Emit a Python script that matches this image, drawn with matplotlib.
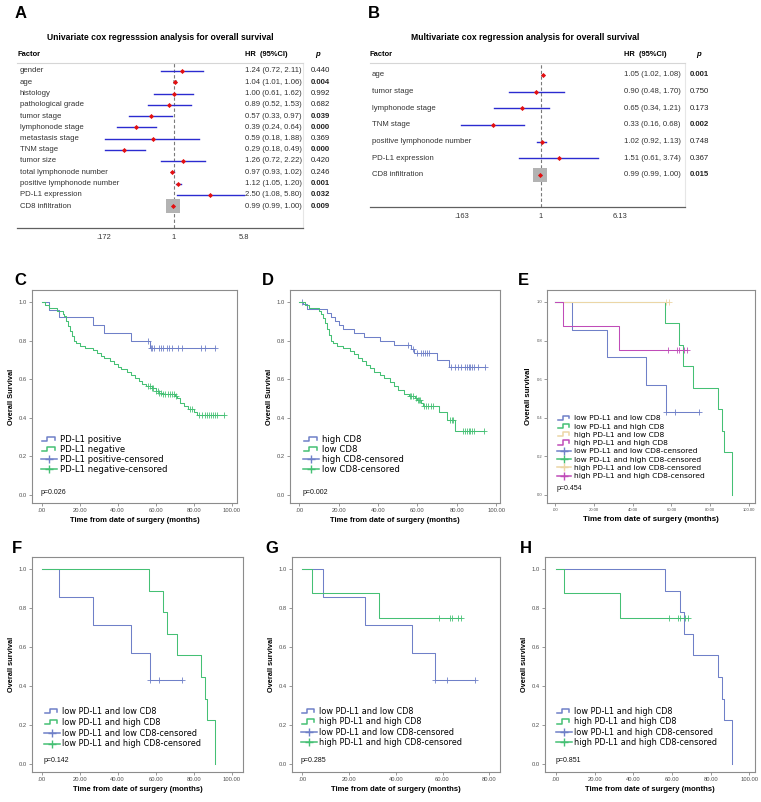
import numpy as np
import matplotlib.pyplot as plt
from matplotlib.lines import Line2D
from matplotlib.legend_handler import HandlerBase

plt.rcParams['font.family'] = ['Liberation Sans', 'DejaVu Sans']

# ---- forest plot data (A: univariate, B: multivariate) ----
uni_factors = ["gender", "age", "histology", "pathological grade", "tumor stage",
               "lymphonode stage", "metastasis stage", "TNM stage", "tumor size",
               "total lymphonode number", "positive lymphonode number",
               "PD-L1 expression", "CD8 infiltration"]
uni_hr = [1.24, 1.04, 1.00, 0.89, 0.57, 0.39, 0.59, 0.29, 1.26, 0.97, 1.12, 2.50, 0.99]
uni_lo = [0.72, 1.01, 0.61, 0.52, 0.33, 0.24, 0.18, 0.18, 0.72, 0.93, 1.05, 1.08, 0.99]
uni_hi = [2.11, 1.06, 1.62, 1.53, 0.97, 0.64, 1.88, 0.49, 2.22, 1.02, 1.20, 5.80, 1.00]
uni_p = ["0.440", "0.004", "0.992", "0.682", "0.039", "0.000", "0.369", "0.000",
         "0.420", "0.246", "0.001", "0.032", "0.009"]

multi_factors = ["age", "tumor stage", "lymphonode stage", "TNM stage",
                 "positive lymphonode number", "PD-L1 expression", "CD8 infiltration"]
multi_hr = [1.05, 0.90, 0.65, 0.33, 1.02, 1.51, 0.99]
multi_lo = [1.02, 0.48, 0.34, 0.16, 0.92, 0.61, 0.99]
multi_hi = [1.08, 1.70, 1.21, 0.68, 1.13, 3.74, 1.00]
multi_p = ["0.001", "0.750", "0.173", "0.002", "0.748", "0.367", "0.015"]

# ---- Kaplan-Meier data: step times, survival after step, censor times ----
C_pos_t = [0, 4, 9, 27, 33, 47, 57]
C_pos_s = [1.0, 0.96, 0.92, 0.88, 0.84, 0.80, 0.76]
C_pos_c = [56, 57.5, 58, 59, 62, 63, 64, 66, 67, 68.5, 71.5, 74, 84, 86, 91]
C_neg_t = [0, 2, 4, 8, 11, 12, 13, 14, 15, 16, 17, 18, 20, 23, 27, 29, 31, 33, 36, 38,
           40, 42, 45, 47, 49, 51, 53, 55, 58, 60, 62, 64, 70, 71, 73, 75, 77, 80, 82]
C_neg_s = [1.0, 0.985, 0.97, 0.955, 0.94, 0.925, 0.90, 0.875, 0.85, 0.825, 0.80, 0.785,
           0.77, 0.76, 0.75, 0.735, 0.72, 0.71, 0.695, 0.68, 0.665, 0.65, 0.635, 0.62,
           0.605, 0.59, 0.575, 0.565, 0.555, 0.54, 0.53, 0.52, 0.51, 0.50, 0.475, 0.46,
           0.445, 0.43, 0.415]
C_neg_c = [56, 57, 58, 58.5, 60, 61, 62, 63, 64, 65, 66.5, 67.5, 68.5, 69.5, 70.5, 78, 79,
           83, 84.5, 86, 87, 88, 89, 90, 91, 92.5, 96]

D_high_t = [0, 2, 4, 14, 16, 18, 20, 22, 28, 33, 41, 48, 57, 58.5, 70, 76]
D_high_s = [1.0, 0.99, 0.965, 0.945, 0.92, 0.90, 0.88, 0.86, 0.84, 0.82, 0.80, 0.775,
            0.755, 0.735, 0.70, 0.66]
D_high_c = [1.5, 55.5, 58, 60, 62, 63, 64, 65, 66, 77, 79, 80.5, 82, 84, 85, 86, 87, 88,
            89, 91, 94.5]
D_low_t = [0, 3, 5, 10, 11, 12, 13, 14, 15, 16, 17, 19, 22, 26, 28, 30, 32, 34, 36, 38,
           41, 43, 46, 48, 50, 53, 56, 59, 60, 62, 63, 71, 75, 79]
D_low_s = [1.0, 0.985, 0.97, 0.955, 0.94, 0.915, 0.89, 0.86, 0.83, 0.80, 0.785, 0.77,
           0.76, 0.745, 0.73, 0.71, 0.695, 0.675, 0.655, 0.635, 0.62, 0.605, 0.585, 0.565,
           0.545, 0.525, 0.51, 0.50, 0.49, 0.475, 0.462, 0.43, 0.39, 0.33]
D_low_c = [56.5, 57, 58, 59.5, 60.5, 61, 61.5, 63.5, 64.5, 65.5, 67, 68, 76.5, 77.5, 78,
           83, 84, 85, 86, 87, 88, 89, 94]

LL_t = [0, 9, 27, 47, 57]              # low PD-L1 and low CD8
LL_s = [1.0, 0.857, 0.714, 0.571, 0.429]
LL_c = [57, 62, 74]
LH_t = [0, 56.5, 64, 66, 71, 84, 86, 87, 91]   # low PD-L1 and high CD8
LH_s = [1.0, 0.889, 0.778, 0.667, 0.556, 0.444, 0.333, 0.222, 0.0]
LH_c = []
HL_t = [0]                              # high PD-L1 and low CD8
HL_s = [1.0]
HL_c = [57, 59]
HH_t = [0, 4, 33]                       # high PD-L1 and high CD8
HH_s = [1.0, 0.875, 0.75]
HH_c = [58.5, 63, 64, 66.5, 68]

km_xticks = [0, 20, 40, 60, 80, 100]
km_xlabels = [".00", "20.00", "40.00", "60.00", "80.00", "100.00"]
km_yticks = [0.0, 0.2, 0.4, 0.6, 0.8, 1.0]

BLUE = '#6f80c8'
GREEN = '#45c074'
TAN = '#ecd6a6'
MAGENTA = '#c04cb8'

W, H = 761, 802
fig = plt.figure(figsize=(W / 100, H / 100), dpi=100)


def px_axes(l, t, r, b):
    return fig.add_axes([l / W, 1 - b / H, (r - l) / W, (b - t) / H])


def forest(box, first_px, gap, factors, hr, lo, hi, pvals, ticks, ticklabels, xlim,
           title, title_px, col_px):
    l, t, r, b = box
    n = len(factors)
    ax = px_axes(l, t, r, b)
    ax.set_xscale('log')
    ax.set_xlim(*xlim)
    last_px = first_px + (n - 1) * gap
    ax.set_ylim(n - 1 + (b - last_px) / gap, -(first_px - t) / gap)
    fx = lambda px: (px - l) / (r - l)
    fy = lambda px: (px - first_px) / gap
    tr = ax.get_yaxis_transform()

    ax.axvline(1, color='#7a7a7a', ls=(0, (3, 2)), lw=0.8, zorder=1)
    # box area proportional to inverse variance of log HR
    w = 1 / (np.log(np.array(hi)) - np.log(np.array(lo))) ** 2
    side = 15 * np.sqrt(w / w.max()) / 1.389
    for i in range(n):
        ax.plot(hr[i], i, marker='s', ms=side[i], color='#b3b3b3', mew=0, zorder=2)
        ax.plot([lo[i], hi[i]], [i, i], color='#2b2bd0', lw=1.0, zorder=3)
        ax.plot(hr[i], i, marker='D', ms=2.6, color='#e41010', mew=0, zorder=4)
        ax.text(fx(col_px[0]), i, factors[i], transform=tr, va='center', ha='left',
                fontsize=5.6, color='#333333')
        ax.text(fx(col_px[1]), i, "%.2f (%.2f, %.2f)" % (hr[i], lo[i], hi[i]),
                transform=tr, va='center', ha='left', fontsize=5.6, color='#333333',
                clip_on=False)
        bold = float(pvals[i]) < 0.05
        ax.text(fx(col_px[2]), i, pvals[i], transform=tr, va='center', ha='left',
                fontsize=5.6, color='#222222', fontweight='bold' if bold else 'normal',
                clip_on=False)

    hy = fy(54)
    ax.text(0, hy, "Factor", transform=tr, va='center', ha='left', fontsize=5.4,
            fontweight='bold', clip_on=False)
    ax.text(fx(col_px[1]), hy, "HR  (95%CI)", transform=tr, va='center', ha='left',
            fontsize=5.4, fontweight='bold', clip_on=False)
    ax.text(fx(col_px[3]), hy, "p", transform=tr, va='center', ha='left', fontsize=5.6,
            fontweight='bold', style='italic', clip_on=False)
    ax.text(fx(title_px), fy(37), title, transform=tr, va='center', ha='center',
            fontsize=6.2, fontweight='bold', clip_on=False)

    ax.set_xticks(ticks)
    ax.set_xticklabels(ticklabels)
    ax.minorticks_off()
    ax.tick_params(axis='x', length=0, pad=4, labelsize=5.4, labelcolor='#333333')
    ax.set_yticks([])
    ax.spines['left'].set_visible(False)
    ax.spines['bottom'].set_color('#606060')
    ax.spines['bottom'].set_linewidth(0.9)
    ax.spines['top'].set_color('#d6d6d6')
    ax.spines['right'].set_color('#e6e6e6')
    return ax


forest((17, 63, 303, 228), 71, 11.25, uni_factors, uni_hr, uni_lo, uni_hi, uni_p,
       [0.172, 1, 5.8], [".172", "1", "5.8"], (0.0198, 25.5),
       "Univariate cox regresssion analysis for overall survival", 160,
       (20, 245, 311, 315))
forest((370, 63, 685, 207), 75, 16.65, multi_factors, multi_hr, multi_lo, multi_hi,
       multi_p, [0.163, 1, 6.13], [".163", "1", "6.13"], (0.0197, 27.4),
       "Multivariate cox regression analysis for overall survival", 525,
       (372, 624, 690, 696))


class StepIcon(HandlerBase):
    def create_artists(self, legend, orig, xd, yd, width, height, fontsize, trans):
        x = -xd + np.array([0.05, 0.4, 0.4, 0.85, 0.85]) * width
        y = -yd + np.array([0.1, 0.1, 0.9, 0.9, 0.35]) * height
        ln = Line2D(x, y, color=orig.get_color(), lw=1.1)
        ln.set_transform(trans)
        return [ln]


def surv_at(times, surv, t):
    idx = np.searchsorted(np.asarray(times, float), t, side='right') - 1
    return np.asarray(surv)[idx]


def km_panel(box, xlim, xticks, xlabels, curves, names, ylabel, pval, leg_px, leg_fs,
             leg_ls, tick_fs=4.2, lab_fs=5.3, p_px=None):
    l, t, r, b = box
    ax = px_axes(l, t, r, b)
    step_h, cens_h = [], []
    for (tt, ss, cc, col), name in zip(curves, names):
        tend = max([tt[-1]] + list(cc))
        ax.step(list(tt) + [tend], list(ss) + [ss[-1]], where='post', color=col, lw=0.75)
        if cc:
            ax.plot(cc, surv_at(tt, ss, cc), ls='none', marker='+', ms=4, mew=0.6,
                    color=col)
        step_h.append(Line2D([], [], color=col, label=name))
        cens_h.append(Line2D([], [], color=col, marker='+', ms=6, mew=1.0, lw=1.1,
                             label=name + "-censored"))
    ax.set_xlim(*xlim)
    ax.set_ylim(-0.043, 1.062)
    ax.set_xticks(xticks)
    ax.set_xticklabels(xlabels)
    ax.set_yticks(km_yticks)
    ax.set_yticklabels(["%.1f" % v for v in km_yticks])
    ax.tick_params(length=2, width=0.5, color='#707070', labelsize=tick_fs,
                   labelcolor='#505050', pad=1.5)
    for s in ax.spines.values():
        s.set_color('#8c8c8c')
        s.set_linewidth(0.8)
    ax.set_ylabel(ylabel, fontsize=lab_fs, fontweight='bold', labelpad=3)
    ax.set_xlabel("Time from date of surgery (months)", fontsize=lab_fs + 0.2,
                  fontweight='bold', labelpad=3)
    handles = step_h + cens_h
    lx, ly = leg_px
    ax.legend(handles=handles, loc='upper left',
              bbox_to_anchor=((lx - l) / (r - l), (b - ly) / (b - t)),
              frameon=False, borderpad=0, borderaxespad=0,
              handlelength=1.9, handletextpad=0.35, labelspacing=leg_ls,
              prop={'family': 'DejaVu Sans', 'size': leg_fs},
              handler_map={h: StepIcon() for h in step_h})
    py = p_px if p_px is not None else b - 10
    ax.text((lx - l) / (r - l), (b - py) / (b - t), pval, transform=ax.transAxes,
            fontsize=5.0, va='center', ha='left', color='#111111')
    return ax


km_panel((32, 290, 237, 503), (-5.1, 102.8), km_xticks, km_xlabels,
         [(C_pos_t, C_pos_s, C_pos_c, BLUE), (C_neg_t, C_neg_s, C_neg_c, GREEN)],
         ["PD-L1 positive", "PD-L1 negative"], "Overall Survival", "p=0.026",
         (41, 435), 6.1, 0.12, p_px=493)
km_panel((290, 290, 500, 503), (-4.7, 102), km_xticks, km_xlabels,
         [(D_high_t, D_high_s, D_high_c, BLUE), (D_low_t, D_low_s, D_low_c, GREEN)],
         ["high CD8", "low CD8"], "Overall Survival", "p=0.002",
         (303, 435), 6.1, 0.12, p_px=493)
km_panel((547, 290, 755, 503), (-4.1, 103.1), km_xticks, km_xlabels,
         [(LL_t, LL_s, LL_c, BLUE), (LH_t, LH_s, LH_c, GREEN),
          (HL_t, HL_s, HL_c, TAN), (HH_t, HH_s, HH_c, MAGENTA)],
         ["low PD-L1 and low CD8", "low PD-L1 and high CD8",
          "high PD-L1 and low CD8", "high PD-L1 and high CD8"],
         "Overall survival", "p=0.454", (557, 415), 5.4, 0.27, tick_fs=3.0,
         lab_fs=5.6, p_px=489)
km_panel((32, 557, 243, 772), (-5.1, 106), km_xticks, km_xlabels,
         [(LL_t, LL_s, LL_c, BLUE), (LH_t, LH_s, LH_c, GREEN)],
         ["low PD-L1 and low CD8", "low PD-L1 and high CD8"], "Overall survival",
         "p=0.142", (44, 707), 5.9, 0.22, p_px=761)
km_panel((292, 557, 500, 772), (-4.4, 84.6), km_xticks[:5], km_xlabels[:5],
         [(LL_t, LL_s, LL_c, BLUE), (HH_t, HH_s, HH_c, GREEN)],
         ["low PD-L1 and low CD8", "high PD-L1 and high CD8"], "Overall survival",
         "p=0.285", (301, 707), 5.9, 0.17, p_px=761)
km_panel((545, 557, 755, 772), (-5.7, 102.9), km_xticks, km_xlabels,
         [(LH_t, LH_s, LH_c, BLUE), (HH_t, HH_s, HH_c, GREEN)],
         ["low PD-L1 and high CD8", "high PD-L1 and high CD8"], "Overall survival",
         "p=0.851", (556, 707), 5.9, 0.17, p_px=761)

# panel letters
for letter, x, y in [("A", 15, 18), ("B", 368, 18), ("C", 14, 285), ("D", 262, 285),
                     ("E", 518, 285), ("F", 12, 553), ("G", 265, 553), ("H", 520, 553)]:
    fig.text(x / W, 1 - y / H, letter, fontsize=12, fontweight='bold', va='baseline',
             ha='left')

fig.savefig("out.png", dpi=100)
